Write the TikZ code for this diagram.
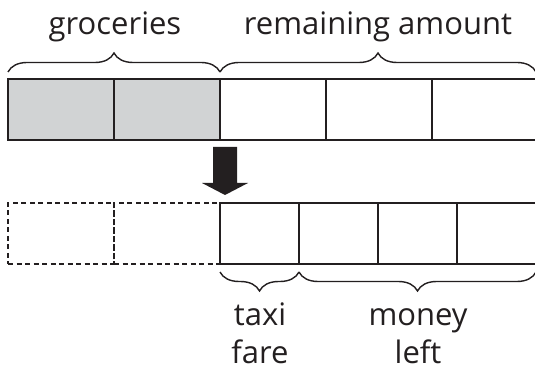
\documentclass[tikz,border=0pt]{standalone}
\usepackage{fontspec}
\setmainfont{Open Sans}
\usetikzlibrary{decorations.pathreplacing}
\definecolor{ink}{HTML}{231F20}
\definecolor{shade}{HTML}{D1D3D4}
\begin{document}
\begin{tikzpicture}[x=1pt,y=-1pt,
  cell/.style={draw=ink,line width=1.8pt,minimum height=61pt,inner sep=0pt,outer sep=0pt,anchor=north west},
  topcell/.style={cell,minimum width=106pt},
  botcell/.style={cell,minimum width=79pt},
  ghost/.style={topcell,dashed,dash pattern=on 5pt off 3.5pt,line width=1.4pt},
  bracetop/.style={draw=ink,line width=1.4pt,decorate,decoration={brace,amplitude=19pt}},
  bracebot/.style={draw=ink,line width=1.4pt,decorate,decoration={brace,mirror,amplitude=19pt}},
  lbl/.style={text=ink,font=\fontsize{31}{37}\selectfont,anchor=base,inner sep=0pt}]
\useasboundingbox (0,0) rectangle (535,371);
% upper bar
\node[topcell,fill=shade] (t1) at (8,79) {};
\node[topcell,fill=shade] (t2) at (114,79) {};
\node[topcell] (t3) at (220,79) {};
\node[topcell] (t4) at (326,79) {};
\node[topcell] (t5) at (432,79) {};
% lower bar
\node[ghost] (g1) at (8,203) {};
\node[ghost] (g2) at (114,203) {};
\node[botcell] (b1) at (220,203) {};
\node[botcell] (b2) at (299,203) {};
\node[botcell] (b3) at (378,203) {};
\node[botcell] (b4) at (457,203) {};
% braces above
\coordinate (rt) at (536,72);
\draw[bracetop] ([yshift=7pt]t1.north west) -- ([yshift=7pt]t2.north east);
\draw[bracetop] ([yshift=7pt]t3.north west) -- (rt);
% braces below
\coordinate (rb) at (536,272);
\draw[bracebot] ([yshift=-8pt]b1.south west) -- ([yshift=-8pt]b1.south east);
\draw[bracebot] ([yshift=-8pt]b2.south west) -- (rb);
% block arrow
\coordinate (ar) at (225,147);
\fill[ink] (ar) ++(-12,0) -- ++(24,0) -- ++(0,36) -- ++(11,0) -- (225,195) -- (202,183) -- ++(11,0) -- cycle;
% labels
\node[lbl] (lg) at (115,35) {groceries};
\node[lbl] (lr) at (378,35) {remaining amount};
\node[lbl] (lt1) at (260,325) {taxi};
\node[lbl] (lt2) at (260,363) {fare};
\node[lbl] (lm1) at (418,325) {money};
\node[lbl] (lm2) at (418,363) {left};
\end{tikzpicture}
\end{document}
